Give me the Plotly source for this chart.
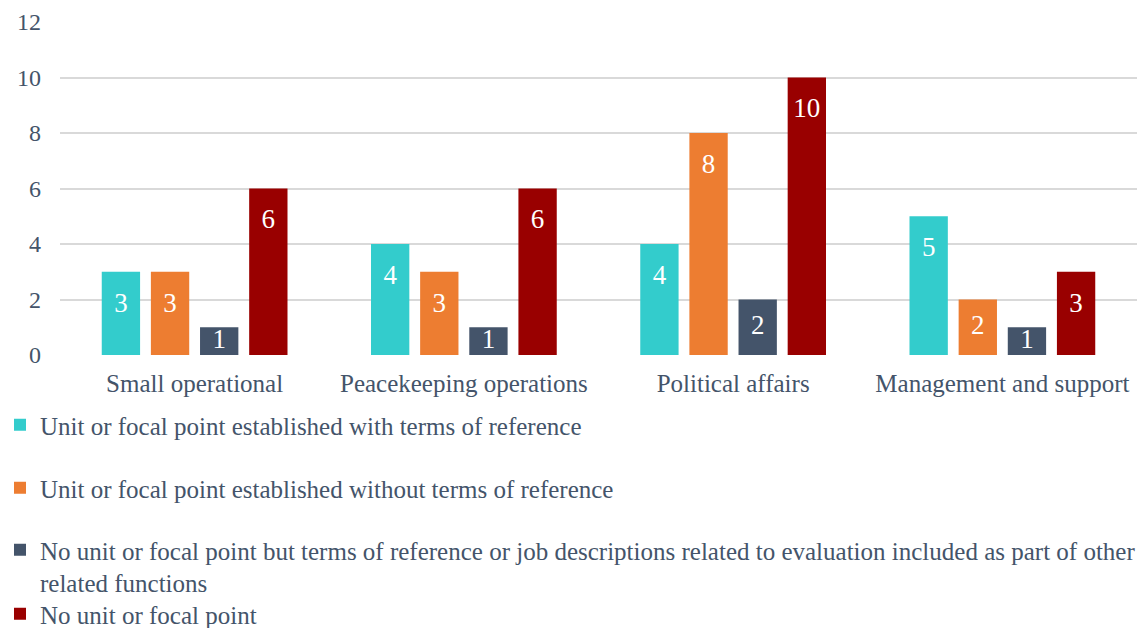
import plotly.graph_objects as go

# Evaluation arrangements by type of entity
categories = ["Small operational", "Peacekeeping operations", "Political affairs", "Management and support"]

series_names = [
    "Unit or focal point established with terms of reference",
    "Unit or focal point established without terms of reference",
    "No unit or focal point but terms of reference or job descriptions related to evaluation included as part of other<br>related functions",
    "No unit or focal point",
]
with_tor = [3, 4, 4, 5]
without_tor = [3, 3, 8, 2]
tor_in_other_functions = [1, 1, 2, 1]
no_unit = [6, 6, 10, 3]

series_values = [with_tor, without_tor, tor_in_other_functions, no_unit]
series_colors = ["#33CCCC", "#ED7D31", "#44546A", "#990000"]

y_ticks = [0, 2, 4, 6, 8, 10, 12]

FONT = "Liberation Serif"
TEXT_COLOR = "#44546A"
W, H = 1137, 628
MARGIN = dict(l=60, r=0, t=22, b=273, autoexpand=False)
Y_MAX = 12

# one legend box per series, stacked under the plot (container pixel rows)
legend_rows = [425, 488, 550, 614]
legend_ids = ["legend", "legend2", "legend3", "legend4"]

fig = go.Figure()

# bars
for name, vals, color, lid in zip(series_names, series_values, series_colors, legend_ids):
    fig.add_trace(go.Bar(
        x=categories, y=vals, name=name,
        marker=dict(color=color, line=dict(width=0)),
        legend=lid, hoverinfo="x+y",
    ))

# value labels just inside the top end of each bar
plot_h = H - MARGIN["t"] - MARGIN["b"]
label_drop = 33 * Y_MAX / plot_h
for vals in series_values:
    fig.add_trace(go.Scatter(
        x=categories,
        y=[max(v - label_drop, v / 2) for v in vals],
        text=[str(v) for v in vals],
        mode="text",
        textposition="middle center",
        textfont=dict(family=FONT, size=27, color="white"),
        showlegend=False, hoverinfo="skip",
    ))

legend_layouts = {}
for lid, row in zip(legend_ids, legend_rows):
    legend_layouts[lid] = dict(
        xref="container", yref="container",
        x=0.0, xanchor="left",
        y=1 - (row - 23) / H, yanchor="top",
        valign="top",
        bgcolor="rgba(0,0,0,0)",
        font=dict(family=FONT, size=25, color=TEXT_COLOR),
        itemclick=False, itemdoubleclick=False,
    )

fig.update_layout(
    width=W, height=H,
    margin=MARGIN,
    paper_bgcolor="white", plot_bgcolor="white",
    barmode="group", bargap=0.27, bargroupgap=0.22,
    scattermode="group",
    font=dict(family=FONT, size=24, color=TEXT_COLOR),
    showlegend=True,
    **legend_layouts,
    xaxis=dict(
        type="category", showgrid=False, showline=False, zeroline=False,
        ticks="", ticklabelstandoff=11,
        tickfont=dict(family=FONT, size=25, color=TEXT_COLOR),
        fixedrange=True,
    ),
    yaxis=dict(
        range=[0, Y_MAX], tickvals=y_ticks,
        showgrid=True, gridcolor="#D9D9D9", gridwidth=2,
        zeroline=False, showline=False, ticks="",
        ticklabelstandoff=18,
        tickfont=dict(family=FONT, size=24, color=TEXT_COLOR),
        fixedrange=True,
    ),
)

fig.write_html("out.html", config={"displayModeBar": False})
